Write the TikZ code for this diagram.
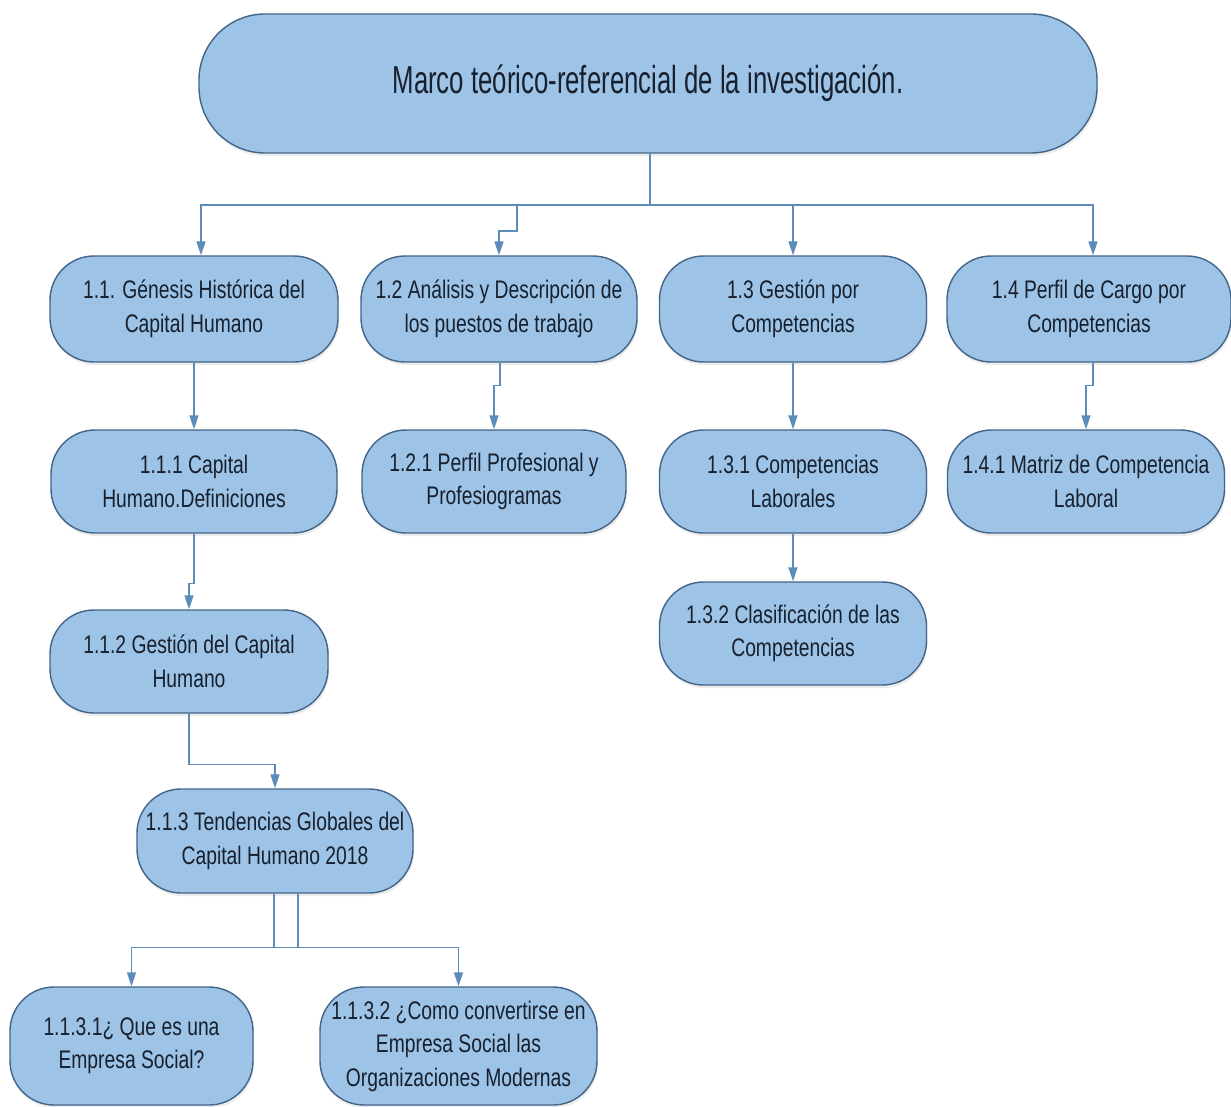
\documentclass[tikz,border=0pt]{standalone}
\usepackage{fontspec}
\setmainfont{Liberation Sans}[FakeStretch=0.76]
\newfontfamily\titlefont{Liberation Sans}[FakeStretch=0.66]
\usetikzlibrary{arrows.meta,shadows}
\definecolor{boxfill}{HTML}{9DC3E6}
\definecolor{boxline}{HTML}{43658A}
\definecolor{connc}{HTML}{5B8CBA}
\definecolor{txt}{HTML}{18202E}
\begin{document}
\begin{tikzpicture}[x=1pt,y=-1pt,
  box/.style={draw=boxline, line width=1.4pt, fill=boxfill, rounded corners=44pt,
    inner sep=0pt, align=center, text=txt, font=\fontsize{25.4}{33.5}\selectfont,
    drop shadow={opacity=0.15, shadow xshift=1pt, shadow yshift=-3pt}},
  conn/.style={draw=connc, line width=1.4pt, -{Triangle[length=14pt,width=9pt]}},
  plain/.style={draw=connc, line width=1.4pt}]
\fill[white] (0,0) rectangle (1231,1107);
\useasboundingbox (0,0) rectangle (1231,1107);

% top
\node[box, rounded corners=66pt, minimum width=898pt, minimum height=139pt,
  font=\titlefont\fontsize{39}{45}\selectfont] (top) at (648,83.5)
  {Marco teórico-referencial de la investigación.};

% level 1
\node[box, minimum width=288pt, minimum height=106pt] (n11) at (194,309) {1.1. Génesis Histórica del\\Capital Humano};
\node[box, minimum width=276pt, minimum height=106pt] (n12) at (499,309) {1.2 Análisis y Descripción de\\los puestos de trabajo};
\node[box, minimum width=267pt, minimum height=106pt] (n13) at (793,309) {1.3 Gestión por\\Competencias};
\node[box, minimum width=284pt, minimum height=106pt] (n14) at (1089,309) {1.4 Perfil de Cargo por\\Competencias};

% level 2
\node[box, minimum width=286pt, minimum height=103pt] (n111) at (194,481.5) {1.1.1 Capital\\Humano.Definiciones};
\node[box, minimum width=264pt, minimum height=103pt] (n121) at (494,481.5) {1.2.1 Perfil Profesional y\\Profesiogramas};
\node[box, minimum width=267pt, minimum height=103pt] (n131) at (793,481.5) {1.3.1 Competencias\\Laborales};
\node[box, minimum width=277pt, minimum height=103pt] (n141) at (1086,481.5) {1.4.1 Matriz de Competencia\\Laboral};

% level 3
\node[box, minimum width=278pt, minimum height=103pt] (n112) at (189,661.5) {1.1.2 Gestión del Capital\\Humano};
\node[box, minimum width=267pt, minimum height=103pt] (n132) at (793,633.5) {1.3.2 Clasificación de las\\Competencias};

% level 4
\node[box, minimum width=276pt, minimum height=104pt] (n113) at (275,841) {1.1.3 Tendencias Globales del\\Capital Humano 2018};

% level 5
\node[box, minimum width=243pt, minimum height=118pt] (n1131) at (131.5,1046) {1.1.3.1¿ Que es una\\Empresa Social?};
\node[box, minimum width=277pt, minimum height=118pt] (n1132) at (458.5,1046) {1.1.3.2 ¿Como convertirse en\\Empresa Social las\\Organizaciones Modernas};

% connectors
\coordinate (bus) at (650,205);
\draw[plain] ([xshift=2pt]top.south) -- (bus);
\draw[conn] (bus) -| ([xshift=7pt]n11.north);
\draw[conn] (bus) -| (517,231) -| (n12.north);
\draw[conn] (bus) -| (n13.north);
\draw[conn] (bus) -| ([xshift=4pt]n14.north);

\draw[conn] (n11.south) -- (n111.north);
\draw[conn] ([xshift=1pt]n12.south) -- ++(0,23) -| (n121.north);
\draw[conn] (n13.south) -- (n131.north);
\draw[conn] ([xshift=4pt]n14.south) -- ++(0,23) -| (n141.north);

\draw[conn] (n111.south) -- ++(0,50) -| (n112.north);
\draw[conn] (n131.south) -- (n132.north);
\draw[conn] (n112.south) -- ++(0,51) -| (n113.north);

\draw[conn] ([xshift=23pt]n113.south) -- ++(0,54) -| (n1131.north);
\draw[conn] ([xshift=-1pt]n113.south) -- ++(0,54) -| (n1132.north);
\end{tikzpicture}
\end{document}
